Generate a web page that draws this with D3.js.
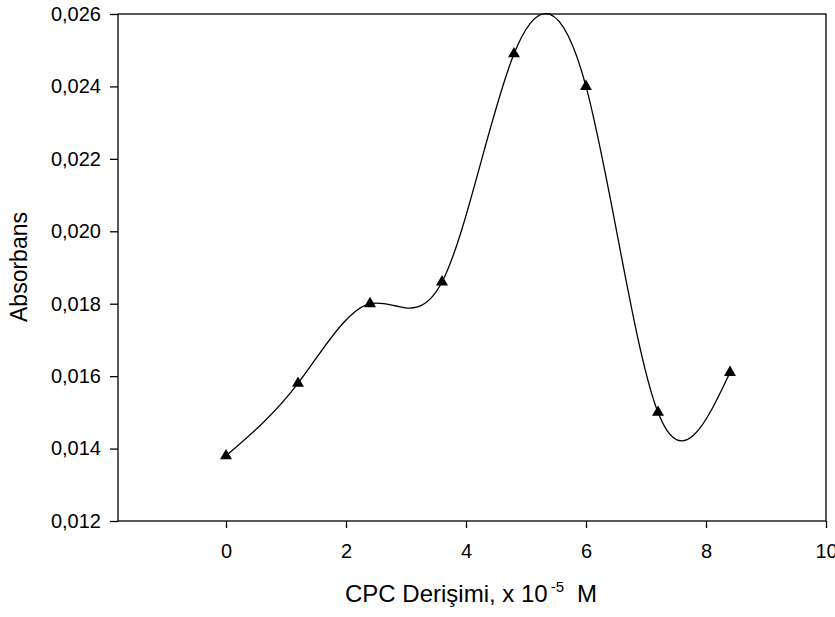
<!DOCTYPE html>
<html>
<head>
<meta charset="utf-8">
<script src="https://cdn.jsdelivr.net/npm/d3@7"></script>
<style>
  body { margin: 0; background: #fff; }
  text { font-family: "Liberation Sans", Arial, sans-serif; fill: #000; }
</style>
</head>
<body>
<div id="chart"></div>
<script>
// CPC concentration (x 10^-5 M) and absorbance
const concentration = [0, 1.2, 2.4, 3.6, 4.8, 6.0, 7.2, 8.4];
const absorbance = [0.0138, 0.0158, 0.0180, 0.0186, 0.0249, 0.0240, 0.0150, 0.0161];
const xTicks = [0, 2, 4, 6, 8, 10];
const yTicks = [0.012, 0.014, 0.016, 0.018, 0.020, 0.022, 0.024, 0.026];

const margin = {top: 14, right: 9, bottom: 96, left: 118};
const width = 835 - margin.left - margin.right;
const height = 617 - margin.top - margin.bottom;

const svg = d3.select("#chart")
    .append("svg")
    .attr("width", 835)
    .attr("height", 617)
    .append("g")
    .attr("transform", `translate(${margin.left},${margin.top})`);

const x = d3.scaleLinear().domain([-1.8, 10]).range([0, width]);
const y = d3.scaleLinear().domain([0.012, 0.026]).range([height, 0]);

const fmt = d => d3.format(".3f")(d).replace(".", ",");

// frame
svg.append("rect")
    .attr("width", width)
    .attr("height", height)
    .attr("fill", "none")
    .attr("stroke", "#000")
    .attr("stroke-width", 1.3);

const xAxis = svg.append("g")
    .attr("transform", `translate(0,${height})`)
    .call(d3.axisBottom(x).tickValues(xTicks).tickSize(7).tickPadding(16).tickFormat(d3.format("d")));

const yAxis = svg.append("g")
    .call(d3.axisLeft(y).tickValues(yTicks).tickSize(8).tickPadding(9).tickFormat(fmt));

[xAxis, yAxis].forEach(a => {
    a.select(".domain").remove();
    a.selectAll(".tick line").attr("stroke", "#000").attr("stroke-width", 1.3);
    a.selectAll(".tick text")
        .attr("fill", "#000")
        .style("font-size", "20px")
        .style("font-family", "'Liberation Sans', Arial, sans-serif");
});

const pts = concentration.map((c, i) => ({x: c, y: absorbance[i]}));

const line = d3.line()
    .x(d => x(d.x))
    .y(d => y(d.y))
    .curve(d3.curveNatural);

svg.append("path")
    .datum(pts)
    .attr("d", line)
    .attr("fill", "none")
    .attr("stroke", "#000")
    .attr("stroke-width", 1.3);

svg.selectAll(".marker")
    .data(pts)
    .enter().append("path")
    .attr("class", "marker")
    .attr("transform", d => `translate(${x(d.x)},${y(d.y)})`)
    .attr("d", d3.symbol().type(d3.symbolTriangle).size(62))
    .attr("fill", "#000");

// axis titles
const xt = svg.append("text")
    .attr("x", 345 - margin.left)
    .attr("y", height + 81)
    .style("font-size", "24px");
xt.append("tspan").text("CPC Derişimi, x 10");
xt.append("tspan").attr("dy", -10).attr("dx", 3).style("font-size", "15px").text("-5");
xt.append("tspan").attr("dy", 10).attr("dx", 13).text("M");

svg.append("text")
    .attr("transform", `translate(${27 - margin.left},${267 - margin.top}) rotate(-90)`)
    .attr("text-anchor", "middle")
    .style("font-size", "23px")
    .text("Absorbans");
</script>
</body>
</html>
